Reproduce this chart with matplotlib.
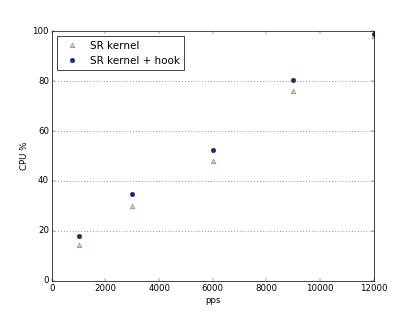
import matplotlib
matplotlib.use("Agg")
import matplotlib.pyplot as plt

plt.style.use('classic')

pps = [1000, 3000, 6000, 9000, 12000]
sr_kernel = [14.5, 30.0, 48.0, 76.0, 98.0]
sr_hook = [18.0, 34.8, 52.5, 80.6, 98.8]

fig = plt.figure(figsize=(8, 6.0154), dpi=51.875)
ax = fig.add_subplot(111)
ax.plot(pps, sr_kernel, linestyle='none', marker='^', markersize=6.5,
        markerfacecolor='#f0b8c8', markeredgecolor='#6a4050', label='SR kernel')
ax.plot(pps, sr_hook, linestyle='none', marker='o', markersize=6.5,
        markerfacecolor='#1c2a6e', markeredgecolor='#1c2a6e', label='SR kernel + hook')
ax.set_xlim(0, 12000)
ax.set_ylim(0, 100)
ax.set_xlabel('pps')
ax.set_ylabel('CPU %')
ax.yaxis.grid(True, linestyle=':', color='#666666', linewidth=1.2)
ax.legend(loc='upper left', numpoints=1)
fig.savefig('out.png', dpi=51.875)
